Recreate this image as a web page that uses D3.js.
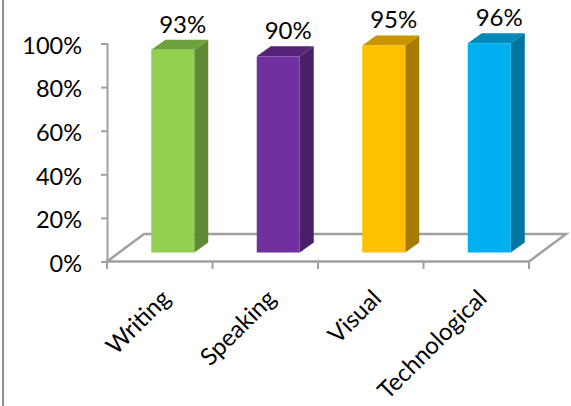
<!DOCTYPE html>
<html><head><meta charset="utf-8">
<script src="https://cdn.jsdelivr.net/npm/d3@7"></script>
<style>html,body{margin:0;padding:0;background:#fff;}svg{display:block;}</style>
</head><body>
<svg id="c" width="571" height="406"></svg>
<script>
const categories = ["Writing", "Speaking", "Visual", "Technological"];
const values = [0.93, 0.90, 0.95, 0.96];
const valueLabels = ["93%", "90%", "95%", "96%"];
const yTicks = [0, 0.2, 0.4, 0.6, 0.8, 1.0];
const frontColors = ["#92D050", "#7030A0", "#FFC000", "#00B0F0"];
const sideColors  = ["#5F8B34", "#4A1F6A", "#A67C00", "#0074A0"];
const topColors   = ["#6FA23E", "#552477", "#C89500", "#0089BB"];

const svg = d3.select("#c");
const font = "Lato, 'Liberation Sans', sans-serif";
const x0 = 107, x1 = 529, yBase = 261.5, yTop = 43.5;
const floorD = [37, -27.5];
const barFront = [13, -9];
const barD = [14, -10];
const barW = 43;
const axisCol = "#A0A0A0";

const x = d3.scaleBand().domain(categories).range([x0, x1]).paddingInner(0).paddingOuter(0);
const y = d3.scaleLinear().domain([0, 1]).range([yBase, yTop]);

svg.append("line").attr("x1",3).attr("x2",3).attr("y1",0).attr("y2",406)
  .attr("stroke","#8C8C8C").attr("stroke-width",2);

const floorPts = [[x0,yBase],[x1,yBase],[x1+floorD[0],yBase+floorD[1]],[x0+floorD[0],yBase+floorD[1]]];
svg.append("polygon").attr("points", floorPts.map(p=>p.join(",")).join(" "))
  .attr("fill","#fff").attr("stroke",axisCol).attr("stroke-width",2.5).attr("stroke-linejoin","miter");

const yAxis = d3.axisLeft(y).tickValues(yTicks).tickSize(6).tickFormat(d3.format(".0%"));
const ga = svg.append("g").attr("transform",`translate(${x0},0)`).call(yAxis);
ga.select(".domain").attr("stroke",axisCol).attr("stroke-width",2);
ga.selectAll(".tick line").attr("stroke",axisCol).attr("stroke-width",2);
ga.selectAll(".tick text").attr("x",-25).attr("dy","0.42em")
  .attr("font-family",font).attr("font-size",23.5).attr("fill","#000");

const bounds = categories.map(c=>x(c)).concat([x1]);
svg.selectAll("line.ct").data(bounds).join("line").attr("class","ct")
  .attr("x1",d=>d).attr("x2",d=>d).attr("y1",yBase).attr("y2",yBase+7.5)
  .attr("stroke",axisCol).attr("stroke-width",2);

const bw = x.bandwidth();
categories.forEach((c,i)=>{
  const cx = x(c) + bw/2 + barFront[0];
  const L = cx - barW/2, R = cx + barW/2;
  const B = yBase + barFront[1];
  const T = B - (yBase - y(values[i]));
  const g = svg.append("g");
  g.append("polygon").attr("points",[[R,T],[R+barD[0],T+barD[1]],[R+barD[0],B+barD[1]],[R,B]].map(p=>p.join(",")).join(" "))
    .attr("fill",sideColors[i]);
  g.append("polygon").attr("points",[[L,T],[L+barD[0],T+barD[1]],[R+barD[0],T+barD[1]],[R,T]].map(p=>p.join(",")).join(" "))
    .attr("fill",topColors[i]);
  g.append("rect").attr("x",L).attr("y",T).attr("width",barW).attr("height",B-T).attr("fill",frontColors[i]);
  g.append("text").attr("x",cx+10).attr("y",T+barD[1]-7).attr("text-anchor","middle")
    .attr("font-family",font).attr("font-size",24).attr("fill","#000").text(valueLabels[i]);
});

svg.selectAll("text.cat").data(categories).join("text").attr("class","cat")
  .attr("transform",d=>`translate(${x(d)+bw/2+12},300) rotate(-45)`)
  .attr("text-anchor","end").attr("font-family",font).attr("font-size",24).attr("fill","#000")
  .text(d=>d);
</script>
</body></html>
